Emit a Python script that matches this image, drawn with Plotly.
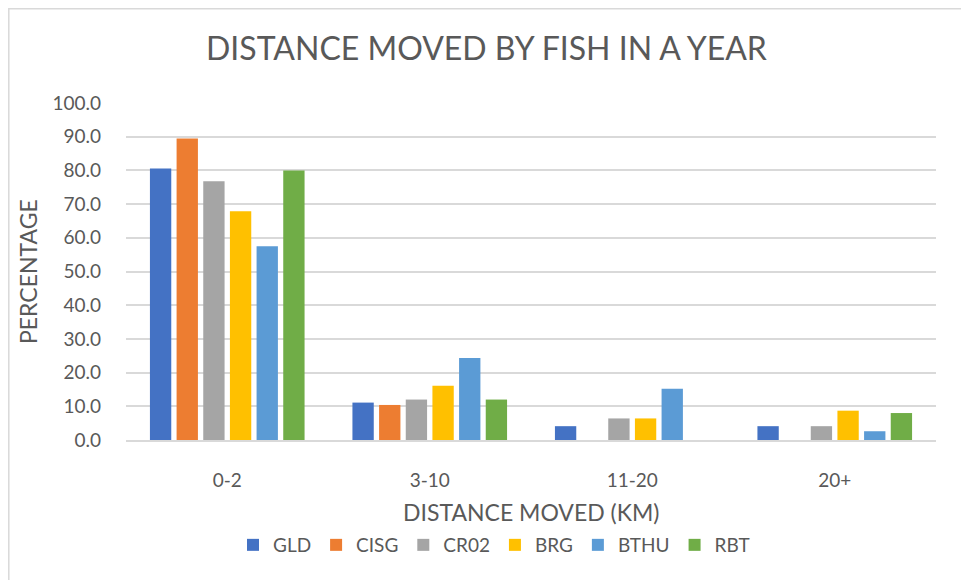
import plotly.graph_objects as go

categories = ["0-2", "3-10", "11-20", "20+"]
series_names = ["GLD", "CISG", "CR02", "BRG", "BTHU", "RBT"]
gld = [80.6, 11.1, 4.1, 4.1]
cisg = [89.5, 10.4, 0.0, 0.0]
cr02 = [76.8, 12.0, 6.4, 4.1]
brg = [67.9, 16.1, 6.4, 8.7]
bthu = [57.5, 24.3, 15.2, 2.6]
rbt = [80.0, 12.0, 0.0, 8.0]
colors = ["#4472C4", "#ED7D31", "#A5A5A5", "#FFC000", "#5B9BD5", "#70AD47"]
y_ticks = [0, 10, 20, 30, 40, 50, 60, 70, 80, 90, 100]

values = [gld, cisg, cr02, brg, bthu, rbt]
FONT = "Lato"
TXT = "#595959"

fig = go.Figure()
for name, vals, col in zip(series_names, values, colors):
    fig.add_trace(go.Bar(name=name, x=categories, y=vals, marker_color=col,
                         marker_line_width=0))

# page body has an 8px margin; compensate so the picture lines up with the window
OFF = 8
W, H = 969 - OFF, 580 - OFF
L, R, T, B = 126 - OFF, 33, 103 - OFF, 140
pw = W - L - R
ph = H - T - B

def px_x(x):
    return (x - OFF - L) / pw

def px_y(y):
    return (H - B - (y - OFF)) / ph

fig.update_layout(
    width=W, height=H,
    margin=dict(l=L, r=R, t=T, b=B),
    paper_bgcolor="white", plot_bgcolor="white",
    barmode="group", bargap=0.21, bargroupgap=0.2,
    font=dict(family=FONT, color=TXT, size=19),
    showlegend=True,
    legend=dict(orientation="h", x=px_x(494), xanchor="center",
                y=px_y(545), yanchor="middle",
                font=dict(size=19, color=TXT, family=FONT),
                itemwidth=30, traceorder="normal", itemclick=False),
    xaxis=dict(showgrid=False, showline=True, linecolor="#d9d9d9", linewidth=1.5,
               ticks="", tickfont=dict(size=19, color=TXT), ticklabelstandoff=22,
               fixedrange=True),
    yaxis=dict(range=[0, 100], tickvals=y_ticks, tickformat=".1f",
               showgrid=True, gridcolor="#d9d9d9", gridwidth=1.5,
               zeroline=False, showline=False, ticks="",
               tickfont=dict(size=19, color=TXT), ticklabelstandoff=24,
               fixedrange=True),
    annotations=[
        dict(text="DISTANCE MOVED BY FISH IN A YEAR", xref="paper", yref="paper",
             x=px_x(486), y=px_y(47), xanchor="center", yanchor="middle",
             showarrow=False, font=dict(size=32, color=TXT, family=FONT)),
        dict(text="DISTANCE MOVED (KM)", xref="paper", yref="paper",
             x=px_x(531), y=px_y(512), xanchor="center", yanchor="middle",
             showarrow=False, font=dict(size=23, color=TXT, family=FONT)),
        dict(text="PERCENTAGE", xref="paper", yref="paper", textangle=-90,
             x=px_x(28), y=px_y(272), xanchor="center", yanchor="middle",
             showarrow=False, font=dict(size=23, color=TXT, family=FONT)),
    ],
    shapes=[dict(type="rect", xref="paper", yref="paper",
                 x0=px_x(OFF + 0.8), x1=px_x(966), y0=px_y(600), y1=px_y(OFF + 0.8),
                 line=dict(color="#d9d9d9", width=1.5), layer="below")],
)

fig.write_html("out.html")
